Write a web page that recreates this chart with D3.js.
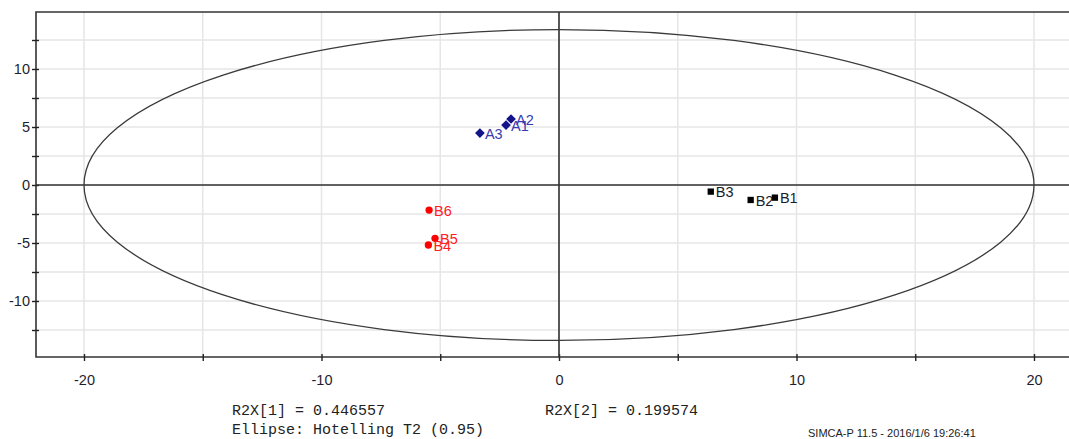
<!DOCTYPE html>
<html><head><meta charset="utf-8">
<script src="https://cdn.jsdelivr.net/npm/d3@7"></script>
<style>body{margin:0;background:#fff}svg{display:block}</style>
</head><body>
<svg id="c" width="1069" height="439"></svg>
<script>
// Data (t[1], t[2] scores)
const groupA = ["A1","A2","A3"];
const groupAx = [-2.23,-2.02,-3.33];
const groupAy = [5.17,5.69,4.48];
const groupB1 = ["B1","B2","B3"];
const groupB1x = [9.09,8.07,6.39];
const groupB1y = [-1.09,-1.29,-0.57];
const groupB2 = ["B4","B5","B6"];
const groupB2x = [-5.5,-5.22,-5.47];
const groupB2y = [-5.17,-4.6,-2.16];
const xTickLabels = [-20,-10,0,10,20];
const yTickLabels = [-10,-5,0,5,10];
const ellipseRadii = [20, 13.4];
const footer1 = "R2X[1] = 0.446557";
const footer2 = "R2X[2] = 0.199574";
const footer3 = "Ellipse: Hotelling T2 (0.95)";
const stamp = "SIMCA-P 11.5 - 2016/1/6 19:26:41";

const svg = d3.select("#c");
const L=36, T=12, R=1075, B=357;
const x = d3.scaleLinear().domain([-20,20]).range([84,1034]);
const y = d3.scaleLinear().domain([-10,10]).range([301,69]);

const xGrid = d3.range(-20,21,5);
const yGrid = d3.range(-12.5,12.6,2.5);
// gridlines
svg.append("g").selectAll("line").data(xGrid).join("line")
  .attr("x1",d=>x(d)).attr("x2",d=>x(d)).attr("y1",T).attr("y2",B)
  .attr("stroke","#e6e6e6").attr("stroke-width",1.5);
svg.append("g").selectAll("line").data(yGrid).join("line")
  .attr("x1",L).attr("x2",R).attr("y1",d=>y(d)).attr("y2",d=>y(d))
  .attr("stroke","#e6e6e6").attr("stroke-width",1.5);

// frame
svg.append("path").attr("d",`M${R},${T}H${L}V${B}H${R}`).attr("fill","none")
  .attr("stroke","#333").attr("stroke-width",1.6);

// axes
const xAxis = d3.axisBottom(x).tickValues(xGrid).tickSize(0).tickFormat(d=>xTickLabels.includes(d)?d:"");
const gx = svg.append("g").attr("transform",`translate(0,${B})`).call(xAxis);
gx.select(".domain").remove();
gx.selectAll(".tick").append("line").attr("y1",-3).attr("y2",4).attr("stroke","#222").attr("stroke-width",1.4);
gx.selectAll("text").attr("dy","0").attr("y",28).attr("font-family","Arial, 'Liberation Sans', sans-serif")
  .attr("font-size",14.5).attr("fill","#1e1e2e");

const yAxis = d3.axisLeft(y).tickValues(yGrid).tickSize(0).tickFormat(d=>yTickLabels.includes(d)?d:"");
const gy = svg.append("g").attr("transform",`translate(${L},0)`).call(yAxis);
gy.select(".domain").remove();
gy.selectAll(".tick").append("line").attr("x1",-4).attr("x2",3).attr("stroke","#222").attr("stroke-width",1.4);
gy.selectAll("text").attr("x",-6).attr("font-family","Arial, 'Liberation Sans', sans-serif")
  .attr("font-size",14.5).attr("fill","#1e1e2e");

// zero lines
svg.append("line").attr("x1",L).attr("x2",R).attr("y1",y(0)).attr("y2",y(0)).attr("stroke","#333").attr("stroke-width",1.6);
svg.append("line").attr("x1",x(0)).attr("x2",x(0)).attr("y1",T).attr("y2",B).attr("stroke","#333").attr("stroke-width",1.6);

// ellipse
svg.append("ellipse").attr("cx",x(0)).attr("cy",y(0))
  .attr("rx",x(ellipseRadii[0])-x(0)).attr("ry",y(0)-y(ellipseRadii[1]))
  .attr("fill","none").attr("stroke","#3a3a3a").attr("stroke-width",1.3);

function series(names,xs,ys,sym,size,fill,labelFill){
  const data = names.map((n,i)=>({n,x:xs[i],y:ys[i]}));
  const g = svg.append("g");
  g.selectAll("path").data(data).join("path")
    .attr("transform",d=>`translate(${x(d.x)},${y(d.y)})`)
    .attr("d",d3.symbol(sym,size)).attr("fill",fill);
  g.selectAll("text").data(data).join("text")
    .attr("x",d=>x(d.x)+5).attr("y",d=>y(d.y)).attr("dy","0.4em")
    .attr("font-family","Arial, 'Liberation Sans', sans-serif").attr("font-size",14.5)
    .attr("fill",labelFill).text(d=>d.n);
}
series(groupA,groupAx,groupAy,d3.symbolDiamond2,60,"#14148a","#3a3ab0");
series(groupB1,groupB1x,groupB1y,d3.symbolSquare,40,"#000","#1a1a2a");
series(groupB2,groupB2x,groupB2y,d3.symbolCircle,42,"#ff0000","#ff2020");

// footer
const mono = "'Courier New','Liberation Mono',monospace";
svg.append("text").attr("x",232).attr("y",415).attr("font-family",mono).attr("font-size",15).attr("fill","#222").text(footer1);
svg.append("text").attr("x",545).attr("y",415).attr("font-family",mono).attr("font-size",15).attr("fill","#222").text(footer2);
svg.append("text").attr("x",232).attr("y",434).attr("font-family",mono).attr("font-size",15).attr("fill","#222").text(footer3);
svg.append("text").attr("x",808).attr("y",437).attr("font-family","Arial, 'Liberation Sans', sans-serif").attr("font-size",11).attr("fill","#222").text(stamp);
</script>
</body></html>
